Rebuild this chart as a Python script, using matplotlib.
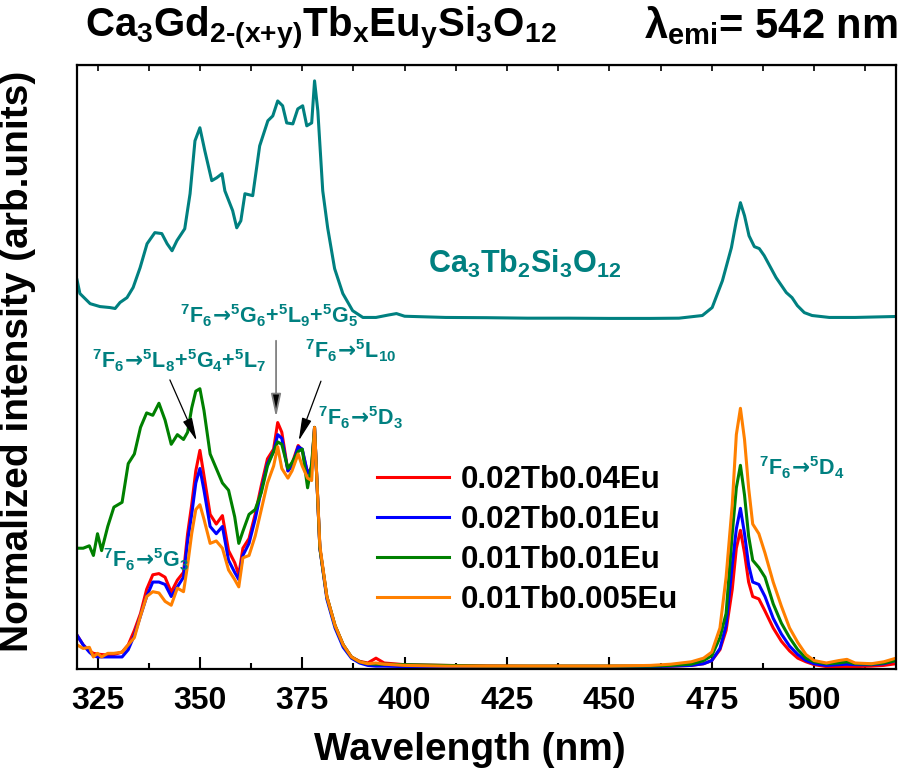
import matplotlib
matplotlib.use('Agg')
from matplotlib import pyplot as plt
from matplotlib.ticker import MultipleLocator

plt.rcParams['font.family'] = ['Liberation Sans', 'DejaVu Sans']
plt.rcParams['font.weight'] = 'bold'
plt.rcParams['axes.labelweight'] = 'bold'
plt.rcParams['mathtext.fontset'] = 'custom'
plt.rcParams['mathtext.rm'] = 'Liberation Sans:bold'
plt.rcParams['mathtext.it'] = 'Liberation Sans:bold'
plt.rcParams['mathtext.bf'] = 'Liberation Sans:bold'
plt.rcParams['mathtext.sf'] = 'DejaVu Sans:bold'
plt.rcParams['mathtext.default'] = 'rm'

# excitation spectra, normalized to the 378 nm band
wl = [320, 321.5, 323, 324, 325, 326, 327.5, 329, 331, 332.5,
      334, 335.5, 337, 338.5, 340, 341.5, 343, 344.5, 346, 347,
      348, 349, 350, 351, 352.5, 354, 355.5, 357, 358.5, 359.5,
      360.5, 362, 363.5, 365, 366.5, 368, 369, 370, 371.5, 372.5,
      374, 375, 376.3, 377.3, 378, 379.3, 381, 383, 385, 387,
      389, 391, 393, 395, 400, 410, 420, 430, 440, 450,
      460, 465, 470, 473, 475, 477, 478.5, 480, 481, 482,
      483, 484, 485, 486.5, 488, 490, 492, 494, 496, 498,
      500, 503, 506, 508, 510, 514, 517, 520]

tb002_eu004 = [0.14, 0.10, 0.075, 0.065, 0.062, 0.06, 0.058, 0.06, 0.07, 0.10,
               0.16, 0.23, 0.33, 0.39, 0.395, 0.38, 0.318, 0.368, 0.40, 0.56,
               0.68, 0.82, 0.905, 0.80, 0.64, 0.60, 0.635, 0.49, 0.44, 0.39,
               0.50, 0.54, 0.64, 0.76, 0.87, 0.91, 1.02, 0.98, 0.82, 0.85,
               0.925, 0.905, 0.81, 0.835, 1.0, 0.50, 0.30, 0.18, 0.10, 0.05,
               0.032, 0.025, 0.045, 0.025, 0.018, 0.015, 0.013, 0.012, 0.012, 0.012,
               0.012, 0.012, 0.015, 0.022, 0.035, 0.08, 0.16, 0.33, 0.50, 0.574,
               0.48, 0.36, 0.30, 0.29, 0.24, 0.17, 0.115, 0.075, 0.045, 0.03,
               0.018, 0.01, 0.008, 0.01, 0.01, 0.012, 0.015, 0.022]

tb002_eu001 = [0.14, 0.10, 0.07, 0.055, 0.05, 0.05, 0.05, 0.05, 0.05, 0.08,
               0.14, 0.22, 0.30, 0.36, 0.36, 0.35, 0.30, 0.34, 0.38, 0.53,
               0.64, 0.77, 0.83, 0.74, 0.59, 0.56, 0.59, 0.45, 0.40, 0.37,
               0.47, 0.52, 0.62, 0.74, 0.85, 0.90, 0.97, 0.955, 0.82, 0.84,
               0.92, 0.91, 0.81, 0.83, 1.0, 0.50, 0.29, 0.17, 0.09, 0.045,
               0.025, 0.015, 0.012, 0.012, 0.01, 0.01, 0.01, 0.01, 0.01, 0.01,
               0.01, 0.012, 0.015, 0.022, 0.035, 0.085, 0.18, 0.43, 0.58, 0.665,
               0.56, 0.43, 0.36, 0.35, 0.30, 0.21, 0.145, 0.095, 0.06, 0.035,
               0.022, 0.015, 0.018, 0.02, 0.018, 0.018, 0.022, 0.035]

tb001_eu001 = [0.50, 0.50, 0.51, 0.47, 0.56, 0.49, 0.59, 0.67, 0.69, 0.85,
               0.89, 1.00, 1.06, 1.05, 1.10, 1.03, 0.93, 0.97, 0.95, 0.98,
               1.08, 1.15, 1.16, 1.07, 0.89, 0.83, 0.77, 0.74, 0.63, 0.52,
               0.57, 0.64, 0.66, 0.73, 0.84, 0.90, 0.94, 0.93, 0.83, 0.855,
               0.90, 0.91, 0.75, 0.85, 1.0, 0.50, 0.30, 0.18, 0.10, 0.05,
               0.03, 0.022, 0.02, 0.02, 0.018, 0.015, 0.012, 0.012, 0.012, 0.012,
               0.012, 0.015, 0.02, 0.035, 0.055, 0.13, 0.23, 0.56, 0.75, 0.843,
               0.72, 0.55, 0.45, 0.42, 0.38, 0.27, 0.19, 0.13, 0.08, 0.045,
               0.03, 0.022, 0.025, 0.03, 0.022, 0.02, 0.025, 0.035]

tb001_eu0005 = [0.10, 0.085, 0.09, 0.05, 0.065, 0.05, 0.065, 0.065, 0.07, 0.10,
                0.13, 0.22, 0.30, 0.32, 0.315, 0.28, 0.264, 0.335, 0.32, 0.43,
                0.56, 0.66, 0.68, 0.62, 0.52, 0.53, 0.50, 0.41, 0.37, 0.34,
                0.46, 0.47, 0.55, 0.66, 0.77, 0.84, 0.92, 0.83, 0.79, 0.82,
                0.89, 0.84, 0.79, 0.78, 1.0, 0.51, 0.30, 0.18, 0.10, 0.05,
                0.03, 0.022, 0.025, 0.02, 0.015, 0.012, 0.012, 0.012, 0.012, 0.012,
                0.015, 0.02, 0.03, 0.045, 0.07, 0.17, 0.38, 0.68, 0.97, 1.079,
                0.95, 0.75, 0.60, 0.56, 0.48, 0.36, 0.26, 0.17, 0.11, 0.06,
                0.035, 0.025, 0.035, 0.04, 0.025, 0.022, 0.03, 0.045]

# Ca3Tb2Si3O12 reference spectrum (normalized, drawn shifted up)
wl_tb = [320, 320.7, 323.2, 325.6, 328, 329.3, 330.5, 332.2, 333.7, 335.4,
         337.1, 339, 340.7, 342, 343.2, 344.4, 346.3, 347.6, 348.8, 350,
         351.2, 352.9, 354.1, 355.4, 356.1, 358, 359, 360, 361, 362.9,
         364.6, 366.6, 367.8, 369, 370.2, 371.2, 372.7, 373.9, 375.1, 376.1,
         377.3, 378, 378.8, 380, 381.2, 382.9, 384.9, 387.3, 389.8, 393,
         396, 398, 400, 410, 420, 430, 440, 450, 460, 467,
         472.7, 475.1, 477.6, 479.8, 481, 482, 483, 484.1, 485.4, 486.6,
         487.8, 490.7, 493.2, 494.6, 495.9, 497.6, 499.5, 503.7, 510, 520]
tb_pure = [0.18, 0.124, 0.082, 0.07, 0.066, 0.062, 0.087, 0.107, 0.149, 0.231,
           0.33, 0.376, 0.372, 0.33, 0.301, 0.343, 0.392, 0.537, 0.756, 0.81,
           0.715, 0.591, 0.603, 0.62, 0.549, 0.467, 0.396, 0.425, 0.537, 0.529,
           0.735, 0.839, 0.859, 0.921, 0.901, 0.83, 0.826, 0.888, 0.901, 0.818,
           0.83, 1.004, 0.88, 0.549, 0.396, 0.227, 0.124, 0.053, 0.025, 0.025,
           0.035, 0.041, 0.03, 0.025, 0.024, 0.022, 0.022, 0.021, 0.021, 0.022,
           0.033, 0.066, 0.177, 0.314, 0.425, 0.5, 0.446, 0.363, 0.318, 0.31,
           0.281, 0.19, 0.128, 0.107, 0.074, 0.045, 0.033, 0.025, 0.025, 0.029]
TB_OFFSET = 1.43

labels = ['0.02Tb0.04Eu', '0.02Tb0.01Eu', '0.01Tb0.01Eu', '0.01Tb0.005Eu']
colors = ['#ff0000', '#0000ff', '#008000', '#ff8000']
TEAL = '#008080'

fig = plt.figure(figsize=(9, 7.73), dpi=100)
ax = fig.add_axes([0.0856, 0.1345, 0.91, 0.7815])

ax.plot(wl_tb, [v + TB_OFFSET for v in tb_pure], color=TEAL, lw=2.2)
for ys, c, lab in zip([tb002_eu004, tb002_eu001, tb001_eu001, tb001_eu0005], colors, labels):
    ax.plot(wl, ys, color=c, lw=2.2, label=lab)

ax.set_xlim(320, 520)
ax.set_ylim(0, 2.5)
ax.set_yticks([])
ax.xaxis.set_major_locator(MultipleLocator(25))
ax.xaxis.set_minor_locator(MultipleLocator(12.5))
ax.tick_params(axis='x', which='major', direction='in', length=9, width=1.5,
               labelsize=23, pad=12)
ax.tick_params(axis='x', which='minor', direction='in', length=4.5, width=1.5)
for sp in ax.spines.values():
    sp.set_linewidth(1.6)

top = ax.secondary_xaxis('top')
top.xaxis.set_major_locator(MultipleLocator(12.5))
top.tick_params(direction='in', length=4, width=1.2, labeltop=False)

ax.set_xlabel('Wavelength (nm)', fontsize=28, fontweight='bold')
ax.xaxis.set_label_coords(0.48, -0.105)
ax.set_ylabel('Normalized intensity (arb.units)', fontsize=28, fontweight='bold')
ax.yaxis.set_label_coords(-0.05, 0.51)

fig.text(0.094, 0.951, r'Ca$_3$Gd$_{2\text{-}(x{+}y)}$Tb$_x$Eu$_y$Si$_3$O$_{12}$',
         fontsize=29, ha='left', va='baseline')
fig.text(0.998, 0.951, '\u03bb$_{emi}$= 542 nm', fontsize=30, ha='right', va='baseline')

ax.legend(loc='upper left', bbox_to_anchor=(0.366, 0.338), frameon=False, fontsize=22.5,
          handlelength=2.3, handletextpad=0.4, labelspacing=0.32, borderpad=0,
          borderaxespad=0)

ARR = r'$\!\mathsf{\rightarrow}\!$'
afs = 15.5
ax.text(405.6, 1.64, 'Ca$_3$Tb$_2$Si$_3$O$_{12}$', color=TEAL, fontsize=22)
ax.text(345.1, 1.43, '$^7$F$_6$' + ARR + '$^5$G$_6$+$^5$L$_9$+$^5$G$_5$', color=TEAL, fontsize=afs)
ax.text(323.7, 1.244, '$^7$F$_6$' + ARR + '$^5$L$_8$+$^5$G$_4$+$^5$L$_7$', color=TEAL, fontsize=afs)
ax.text(375.6, 1.285, '$^7$F$_6$' + ARR + '$^5$L$_{10}$', color=TEAL, fontsize=afs)
ax.text(378.8, 1.008, '$^7$F$_6$' + ARR + '$^5$D$_3$', color=TEAL, fontsize=afs)
ax.text(326.3, 0.421, '$^7$F$_6$' + ARR + '$^5$G$_3$', color=TEAL, fontsize=afs)
ax.text(486.6, 0.80, '$^7$F$_6$' + ARR + '$^5$D$_4$', color=TEAL, fontsize=afs)

head = '-|>,head_length=0.7,head_width=0.15'
ax.annotate('', xy=(368.6, 1.03), xytext=(368.6, 1.37),
            arrowprops=dict(arrowstyle=head, ec='0.5', fc='black', lw=1.3, mutation_scale=20))
ax.annotate('', xy=(349.5, 0.934), xytext=(342.4, 1.207),
            arrowprops=dict(arrowstyle=head, color='black', lw=0.9, mutation_scale=20))
ax.annotate('', xy=(373.9, 0.934), xytext=(379.8, 1.202),
            arrowprops=dict(arrowstyle=head, color='black', lw=0.9, mutation_scale=20))

fig.savefig('out.png', dpi=100)
